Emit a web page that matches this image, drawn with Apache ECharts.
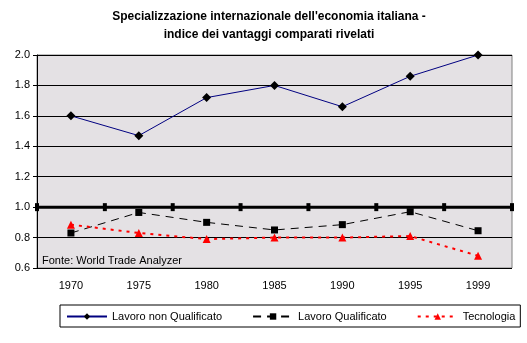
<!DOCTYPE html>
<html>
<head>
<meta charset="utf-8">
<script src="https://cdn.jsdelivr.net/npm/echarts@6/dist/echarts.min.js"></script>
<style>html,body{margin:0;padding:0;background:#fff}#c{width:527px;height:343px}</style>
</head>
<body>
<div id="c"></div>
<script>
var years = ['1970', '1975', '1980', '1985', '1990', '1995', '1999'];
var lavoroNonQualificato = [1.60, 1.47, 1.72, 1.80, 1.66, 1.86, 2.00];
var lavoroQualificato = [0.83, 0.965, 0.90, 0.85, 0.885, 0.97, 0.845];
var tecnologia = [0.885, 0.83, 0.79, 0.80, 0.80, 0.81, 0.68];
var referenceLevel = 1.0;
var referenceBoundaries = [0, 1, 2, 3, 4, 5, 6, 7];
var yTicks = { min: 0.6, max: 2.0, interval: 0.2 };

var font = 'Liberation Sans, Arial, sans-serif';
var chart = echarts.init(document.getElementById('c'));
chart.setOption({
  animation: false,
  title: {
    text: "Specializzazione internazionale dell'economia italiana -\nindice dei vantaggi comparati rivelati",
    left: 264, top: 3, textAlign: 'center',
    textStyle: { fontFamily: font, fontSize: 12, fontWeight: 'bold', color: '#000', lineHeight: 18 }
  },
  grid: {
    left: 37, right: 15, top: 55, bottom: 75,
    show: true, backgroundColor: '#e4e1e4', borderColor: '#808080', borderWidth: 1
  },
  legend: {
    data: ['Lavoro non Qualificato', 'Lavoro Qualificato', 'Tecnologia'],
    left: 60, top: 305, height: 24,
    padding: [6, 5, 5, 6],
    itemGap: 30, itemWidth: 40, itemHeight: 8,
    borderColor: '#000', borderWidth: 1, borderRadius: 0,
    textStyle: { fontFamily: font, fontSize: 11, color: '#000' }
  },
  graphic: [{
    type: 'text', left: 42, top: 255,
    style: { text: 'Fonte: World Trade Analyzer', fontFamily: font, fontSize: 11, fill: '#000' }
  }],
  xAxis: [{
    type: 'category', data: years, boundaryGap: true,
    axisLine: { show: false }, axisTick: { show: false },
    axisLabel: { fontFamily: font, fontSize: 11, color: '#000', margin: 12 }
  }, {
    type: 'value', min: 0, max: 7, show: false
  }],
  yAxis: {
    type: 'value', min: yTicks.min, max: yTicks.max, interval: yTicks.interval,
    axisLine: { show: true, lineStyle: { color: '#000' } },
    axisTick: { show: true, length: 4, lineStyle: { color: '#000' } },
    axisLabel: { fontFamily: font, fontSize: 11, color: '#000', margin: 7,
      formatter: function (v) { return v.toFixed(1); } },
    splitLine: { show: true, lineStyle: { color: '#000', width: 1 } }
  },
  series: [{
    name: 'reference', type: 'line', xAxisIndex: 1,
    data: referenceBoundaries.map(function (b) { return [b, referenceLevel]; }),
    lineStyle: { color: '#000', width: 3 },
    symbol: 'rect', symbolSize: [4, 8], itemStyle: { color: '#000' },
    z: 3, silent: true
  }, {
    name: 'Lavoro non Qualificato', type: 'line', data: lavoroNonQualificato,
    lineStyle: { color: '#000080', width: 1 },
    symbol: 'diamond', symbolSize: 9, itemStyle: { color: '#000' }, z: 4
  }, {
    name: 'Lavoro Qualificato', type: 'line', data: lavoroQualificato,
    lineStyle: { color: '#000', width: 1, type: [8, 6] },
    symbol: 'rect', symbolSize: 7, itemStyle: { color: '#000' }, z: 4
  }, {
    name: 'Tecnologia', type: 'line', data: tecnologia,
    lineStyle: { color: '#ff0000', width: 2, type: [3, 5] },
    symbol: 'triangle', symbolSize: 8, itemStyle: { color: '#ff0000' }, z: 4
  }]
});
</script>
</body>
</html>
